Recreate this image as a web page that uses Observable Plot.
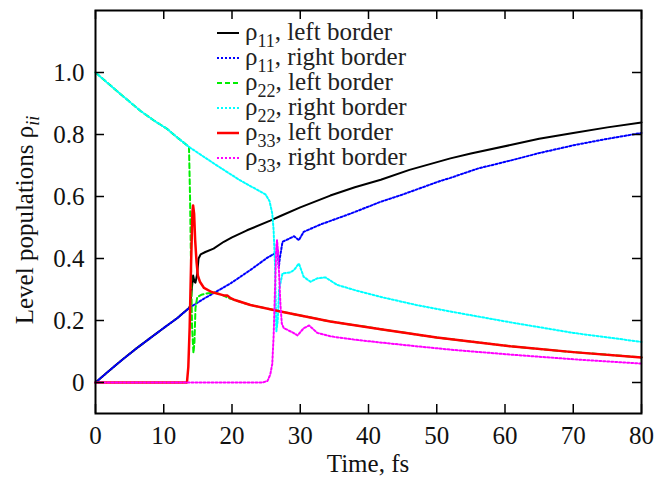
<!DOCTYPE html>
<html><head><meta charset="utf-8">
<script src="https://cdn.jsdelivr.net/npm/d3@7"></script>
<script src="https://cdn.jsdelivr.net/npm/@observablehq/plot@0.6"></script>
<style>body{margin:0;background:#fff}</style>
</head><body><div id="chart"></div>
<script>
// ---- data ----
const xTicks = [0, 10, 20, 30, 40, 50, 60, 70, 80];
const yTicks = [0, 0.2, 0.4, 0.6, 0.8, 1.0];

const rho11Left = [[0,0],[2,0.038],[4,0.075],[6,0.11],[8,0.143],[10,0.176],[12,0.208],[13.7,0.24],[13.9,0.25],[14.1,0.3],[14.3,0.345],[14.5,0.325],[14.65,0.322],[14.9,0.35],[15.1,0.4],[15.4,0.413],[16.1,0.421],[17.3,0.432],[18.8,0.454],[20,0.468],[22.2,0.491],[25.6,0.522],[27.1,0.537],[30,0.565],[34.4,0.603],[38,0.63],[41.8,0.654],[46,0.686],[52,0.723],[55,0.739],[60.8,0.766],[65,0.786],[70,0.805],[75,0.823],[80,0.839]];
const rho11Right = [[0,0],[2,0.038],[4,0.075],[6,0.11],[8,0.143],[10,0.176],[12,0.208],[13.7,0.24],[14.4,0.25],[16,0.272],[18,0.297],[19.8,0.32],[22.7,0.363],[25.2,0.403],[26.4,0.418],[26.7,0.43],[26.85,0.37],[27.0,0.40],[27.4,0.454],[28.2,0.462],[29.1,0.472],[29.8,0.459],[30.5,0.486],[33,0.51],[37.4,0.545],[41.8,0.583],[44.7,0.604],[50.5,0.65],[52,0.66],[56,0.69],[60.8,0.716],[65,0.74],[70,0.765],[75,0.786],[80,0.805]];
const rho22Left = [[0,1.0],[2,0.962],[4,0.924],[6.6,0.876],[8.5,0.846],[10.5,0.818],[12,0.79],[13.7,0.76],[13.85,0.6],[14.0,0.37],[14.15,0.18],[14.35,0.095],[14.5,0.13],[14.65,0.24],[14.9,0.275],[15.5,0.283],[16.5,0.288],[17.5,0.29],[18.5,0.283],[19.5,0.272],[20.5,0.265],[22.7,0.25],[27.1,0.229],[34.4,0.197],[41.8,0.172],[50,0.145],[60.8,0.117],[70,0.098],[80,0.081]];
const rho22Right = [[0,1.0],[2,0.962],[4,0.924],[6.6,0.876],[8.5,0.846],[10.5,0.818],[12,0.79],[13.7,0.76],[15.4,0.735],[18,0.697],[21.2,0.652],[23,0.63],[24.9,0.607],[25.5,0.585],[25.9,0.545],[26.1,0.49],[26.3,0.38],[26.5,0.165],[26.7,0.2],[26.9,0.3],[27.4,0.352],[28.5,0.355],[29.1,0.363],[29.8,0.384],[30.5,0.341],[31.5,0.325],[32.5,0.336],[33.7,0.339],[35.4,0.315],[38,0.298],[42,0.275],[47,0.25],[52,0.229],[60.8,0.194],[70,0.16],[80,0.131]];
const rho33Left = [[0,0],[13.4,0],[13.6,0.05],[13.8,0.18],[14.0,0.38],[14.2,0.55],[14.3,0.571],[14.45,0.545],[14.6,0.46],[14.8,0.39],[15.0,0.345],[15.3,0.325],[15.9,0.305],[17,0.292],[18.8,0.281],[19.3,0.281],[19.8,0.272],[20.3,0.267],[22.7,0.25],[27.1,0.229],[34.4,0.197],[41.8,0.172],[50,0.145],[60.8,0.117],[70,0.098],[80,0.081]];
const rho33Right = [[0,0],[24.5,0],[25.2,0.005],[25.6,0.025],[25.9,0.06],[26.1,0.15],[26.3,0.3],[26.5,0.44],[26.6,0.459],[26.75,0.42],[26.9,0.35],[27.1,0.25],[27.3,0.19],[27.6,0.175],[28.1,0.17],[29,0.16],[29.6,0.152],[30.5,0.175],[31.3,0.184],[32,0.17],[32.5,0.16],[34.4,0.149],[38,0.138],[42.2,0.128],[47,0.117],[52,0.106],[60.8,0.09],[70,0.075],[80,0.061]];

const seriesData = [rho11Left, rho11Right, rho22Left, rho22Right, rho33Left, rho33Right];
const seriesSubs = ["11", "11", "22", "22", "33", "33"];
const seriesText = ["left border", "right border", "left border", "right border", "left border", "right border"];
const seriesColors = ["#000000", "#0000ff", "#00ee00", "#00ffff", "#ff0000", "#ff00ff"];
const seriesDash = [null, "2,2", "5,3", "2,2", null, "2,2"];
const seriesWidth = [2, 2, 2, 2, 2.5, 2];

const xLabel = "Time, fs";
const yLabelMain = "Level populations ρ";
const yLabelSub = "ii";

// ---- layout ----
const W = 669, H = 479;
const mL = 95, mR = 28, mT = 10, mB = 66;
const frameW = W - mL - mR, frameH = H - mT - mB;
const tickLen = 9;
const font = "'Liberation Serif', 'Times New Roman', serif";

const lineMarks = seriesData.map((d, i) => Plot.line(d, {
  x: p => p[0], y: p => p[1],
  stroke: seriesColors[i], strokeWidth: seriesWidth[i],
  strokeDasharray: seriesDash[i] || undefined
}));

const chart = Plot.plot({
  width: W, height: H,
  marginLeft: mL, marginRight: mR, marginTop: mT, marginBottom: mB,
  style: {fontFamily: font, fontSize: "25px", color: "#111", background: "#fff"},
  x: {domain: [0, 80]},
  y: {domain: [-0.1, 1.2]},
  marks: [
    ...lineMarks,
    Plot.axisX({ticks: xTicks, tickSize: 0, tickPadding: 13, label: null, fontSize: 25}),
    Plot.axisY({ticks: yTicks, tickSize: 0, tickPadding: 11, label: null, fontSize: 25,
      tickFormat: d => d === 0 ? "0" : d.toFixed(1)}),
    Plot.tickX(xTicks, {x: d => d, insetTop: frameH - tickLen, stroke: "#000", strokeWidth: 1.5}),
    Plot.tickX(xTicks, {x: d => d, insetBottom: frameH - tickLen, stroke: "#000", strokeWidth: 1.5}),
    Plot.tickY(yTicks, {y: d => d, insetRight: frameW - tickLen, stroke: "#000", strokeWidth: 1.5}),
    Plot.tickY(yTicks, {y: d => d, insetLeft: frameW - tickLen, stroke: "#000", strokeWidth: 1.5}),
    Plot.frame({stroke: "#000", strokeWidth: 2})
  ]
});
document.getElementById("chart").appendChild(chart);

// ---- labels and legend ----
const svg = d3.select(chart);
svg.append("text")
  .attr("x", mL + frameW / 2).attr("y", 472)
  .attr("text-anchor", "middle")
  .style("font-family", font).style("font-size", "25px").attr("fill", "#111")
  .text(xLabel);

const yl = svg.append("text")
  .attr("transform", `translate(33,${220}) rotate(-90)`)
  .attr("text-anchor", "middle")
  .style("font-family", font).style("font-size", "25px").attr("fill", "#111");
yl.append("tspan").text(yLabelMain);
yl.append("tspan").attr("dy", 6).style("font-size", "18px").style("font-style", "italic").text(yLabelSub);

const leg = svg.append("g").attr("text-anchor", "start");
seriesData.forEach((d, i) => {
  const cy = 33 + 25 * i;
  leg.append("line")
    .attr("x1", 217).attr("x2", 239).attr("y1", cy).attr("y2", cy)
    .attr("stroke", seriesColors[i]).attr("stroke-width", seriesWidth[i])
    .attr("stroke-dasharray", seriesDash[i]);
  const t = leg.append("text")
    .attr("x", 245).attr("y", cy + 6.5)
    .attr("text-anchor", "start")
    .style("font-family", font).style("font-size", "25px").attr("fill", "#222");
  t.append("tspan").text("ρ");
  t.append("tspan").attr("dy", 7).style("font-size", "18px").text(seriesSubs[i]);
  t.append("tspan").attr("dy", -7).text(", " + seriesText[i]);
});
</script>
</body></html>
